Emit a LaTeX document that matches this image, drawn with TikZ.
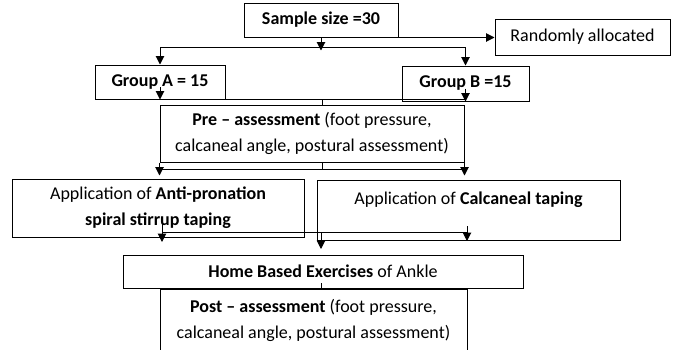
\documentclass[tikz,border=0pt]{standalone}
\usepackage{fontspec}
\setmainfont{Carlito}
\usetikzlibrary{arrows.meta,positioning,calc}

\begin{document}
\begin{tikzpicture}[
    x=1pt, y=-1pt,
    box/.style={rectangle, draw=black, line width=1pt, align=center, inner sep=2pt, font=\fontsize{18}{26}\selectfont},
    arrow/.style={-{Triangle[length=8.5pt,width=8.5pt]}, line width=1pt},
    link/.style={line width=1pt}
]
\clip (0,0) rectangle (675,349);

\node[box, minimum width=154pt, minimum height=34pt] (sample) at (321,20) {\textbf{Sample size =30}};
\node[box, minimum width=175pt, minimum height=36pt] (rand) at (582.5,37) {Randomly allocated};
\node[box, minimum width=130pt, minimum height=34pt] (grpA) at (160,82) {\textbf{Group A = 15}};
\node[box, minimum width=127pt, minimum height=35pt] (grpB) at (465.5,83.5) {\textbf{Group B =15}};
\node[box, minimum width=304pt, minimum height=57pt] (pre) at (312,133.5) {\textbf{Pre -- assessment} (foot pressure,\\calcaneal angle, postural assessment)};
\node[box, minimum width=292pt, minimum height=58pt] (appA) at (158,208) {Application of \textbf{Anti-pronation}\\\textbf{spiral stirrup taping}};
\node[box, minimum width=303pt, minimum height=60pt, text depth=24pt] (appC) at (468.5,210) {Application of \textbf{Calcaneal taping}};
\node[box, minimum width=400pt, minimum height=33pt] (home) at (323,271.5) {\textbf{Home Based Exercises} of Ankle};
\node[box, minimum width=307pt, minimum height=62pt] (post) at (313.5,320) {\textbf{Post -- assessment} (foot pressure,\\calcaneal angle, postural assessment)};

\coordinate (split) at (322,47);
\coordinate (merge) at (322,99);
\coordinate (fork) at (322,169);
\coordinate (join) at (321,232);
\coordinate (link) at (321,283);

\draw[arrow] (sample.south) -- ([yshift=-13pt]sample.south);
\draw[arrow] (sample.south east) -- (sample.south east -| rand.west);
\draw[link] (split -| grpA.north) -- (split -| grpB.north);
\draw[arrow] (split -| grpA.north) -- (grpA.north);
\draw[arrow] (split -| grpB.north) -- (grpB.north);

\draw[arrow] ([yshift=-5pt]grpA.center) -- (grpA.south);
\draw[arrow] ([yshift=-5pt]grpB.center) -- (grpB.south);
\draw[link] (merge -| grpA.south) -- (merge -| grpB.south);
\draw[link] (merge) -- (merge |- pre.north);

\draw[link] (fork |- pre.south) -- (fork);
\draw[link] (fork -| pre.west) -- (fork -| pre.east);
\draw[arrow] (pre.south west) -- ([yshift=-13pt]pre.south west);
\draw[arrow] (pre.south east) -- ([yshift=-13pt]pre.south east);

\draw[link] (join -| 162,0) -- (join -| 467,0);
\draw[arrow] (162,224) -- (162,242);
\draw[arrow] (467,226) -- (467,241);
\draw[arrow] (join) -- ([yshift=-17pt]join);

\draw[link] (link) -- (link |- post.north);
\end{tikzpicture}
\end{document}
